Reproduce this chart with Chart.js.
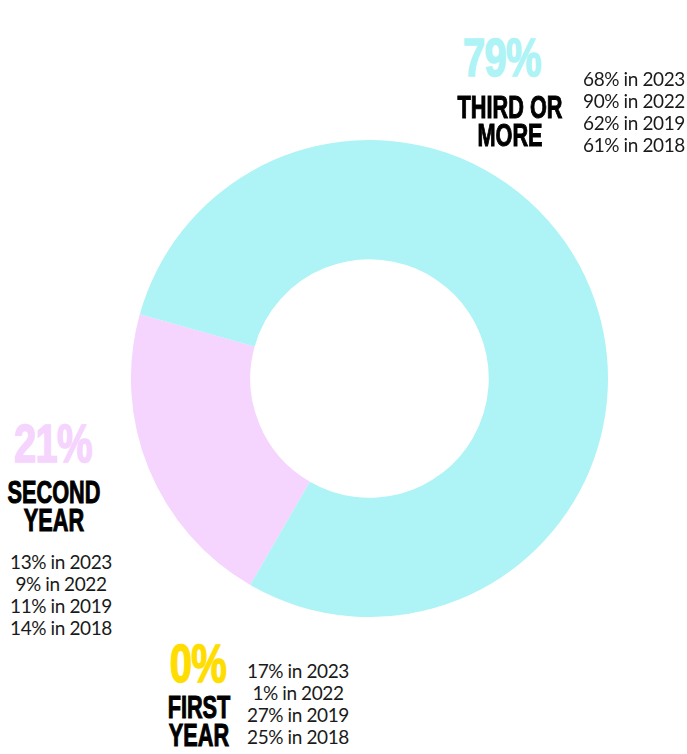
<!DOCTYPE html>
<html>
<head>
<meta charset="utf-8">
<script src="https://cdn.jsdelivr.net/npm/chart.js@4"></script>
<style>
  html, body { margin: 0; padding: 0; background: #ffffff; }
  body { width: 687px; height: 754px; position: relative; overflow: hidden; }
  #wrap { position: absolute; left: 131px; top: 140px; width: 477px; height: 477px; }
  .pct, .name { position: absolute; text-align: center; white-space: nowrap;
                transform: translateX(-50%) scaleX(0.74); transform-origin: center;
                font-family: "Liberation Sans", Arial, sans-serif; font-weight: 700;
                -webkit-text-stroke: 1px currentColor; }
  .pct { font-size: 54px; line-height: 54px; letter-spacing: -1px; -webkit-text-stroke: 1.5px currentColor; }
  .name { font-size: 31px; line-height: 28px; color: #000; transform: translateX(-50%) scaleX(0.70); }
  .hist { position: absolute; text-align: center; transform: translateX(-50%); white-space: nowrap;
          font-family: "Lato", "Inter", sans-serif; font-weight: 400; font-size: 19px; line-height: 22px;
          letter-spacing: -0.4px; color: #1a1a1a; }
</style>
</head>
<body>
<div id="wrap"><canvas id="c"></canvas></div>
<script>
// ---- data ----
const categories = ['FIRST YEAR', 'SECOND YEAR', 'THIRD OR MORE'];
const nameLines = [['FIRST', 'YEAR'], ['SECOND', 'YEAR'], ['THIRD OR', 'MORE']];
const shares = [0, 21, 79];
const years = [2023, 2022, 2019, 2018];
const share2023 = [17, 13, 68];
const share2022 = [1, 9, 90];
const share2019 = [27, 11, 62];
const share2018 = [25, 14, 61];
const colors = ['#ffdd00', '#f5d4fd', '#aef3f5'];

// ---- layout of the annotations (positions only) ----
const pctPos  = [ {x: 198, y: 636}, {x: 53, y: 416}, {x: 502, y: 30} ];
const namePos = [ {x: 199, y: 694}, {x: 54, y: 479}, {x: 510, y: 94} ];
const histPos = [ {x: 298, y: 660}, {x: 61, y: 551}, {x: 634, y: 68} ];

new Chart(document.getElementById('c'), {
  type: 'doughnut',
  data: {
    labels: categories,
    datasets: [{
      data: shares,
      backgroundColor: colors,
      borderWidth: 0,
      hoverOffset: 0
    }]
  },
  options: {
    responsive: true,
    maintainAspectRatio: false,
    animation: false,
    rotation: 210,
    cutout: '50%',
    layout: { padding: 0 },
    plugins: { legend: { display: false }, tooltip: { enabled: false } }
  }
});

const history = [share2023, share2022, share2019, share2018];
function place(cls, pos, html, color) {
  const el = document.createElement('div');
  el.className = cls;
  el.style.left = pos.x + 'px';
  el.style.top = pos.y + 'px';
  if (color) el.style.color = color;
  el.innerHTML = html;
  document.body.appendChild(el);
}
categories.forEach((cat, i) => {
  place('pct', pctPos[i], shares[i] + '%', colors[i]);
  place('name', namePos[i], nameLines[i].join('<br>'));
  place('hist', histPos[i], years.map((y, k) => history[k][i] + '% in ' + y).join('<br>'));
});
</script>
</body>
</html>
